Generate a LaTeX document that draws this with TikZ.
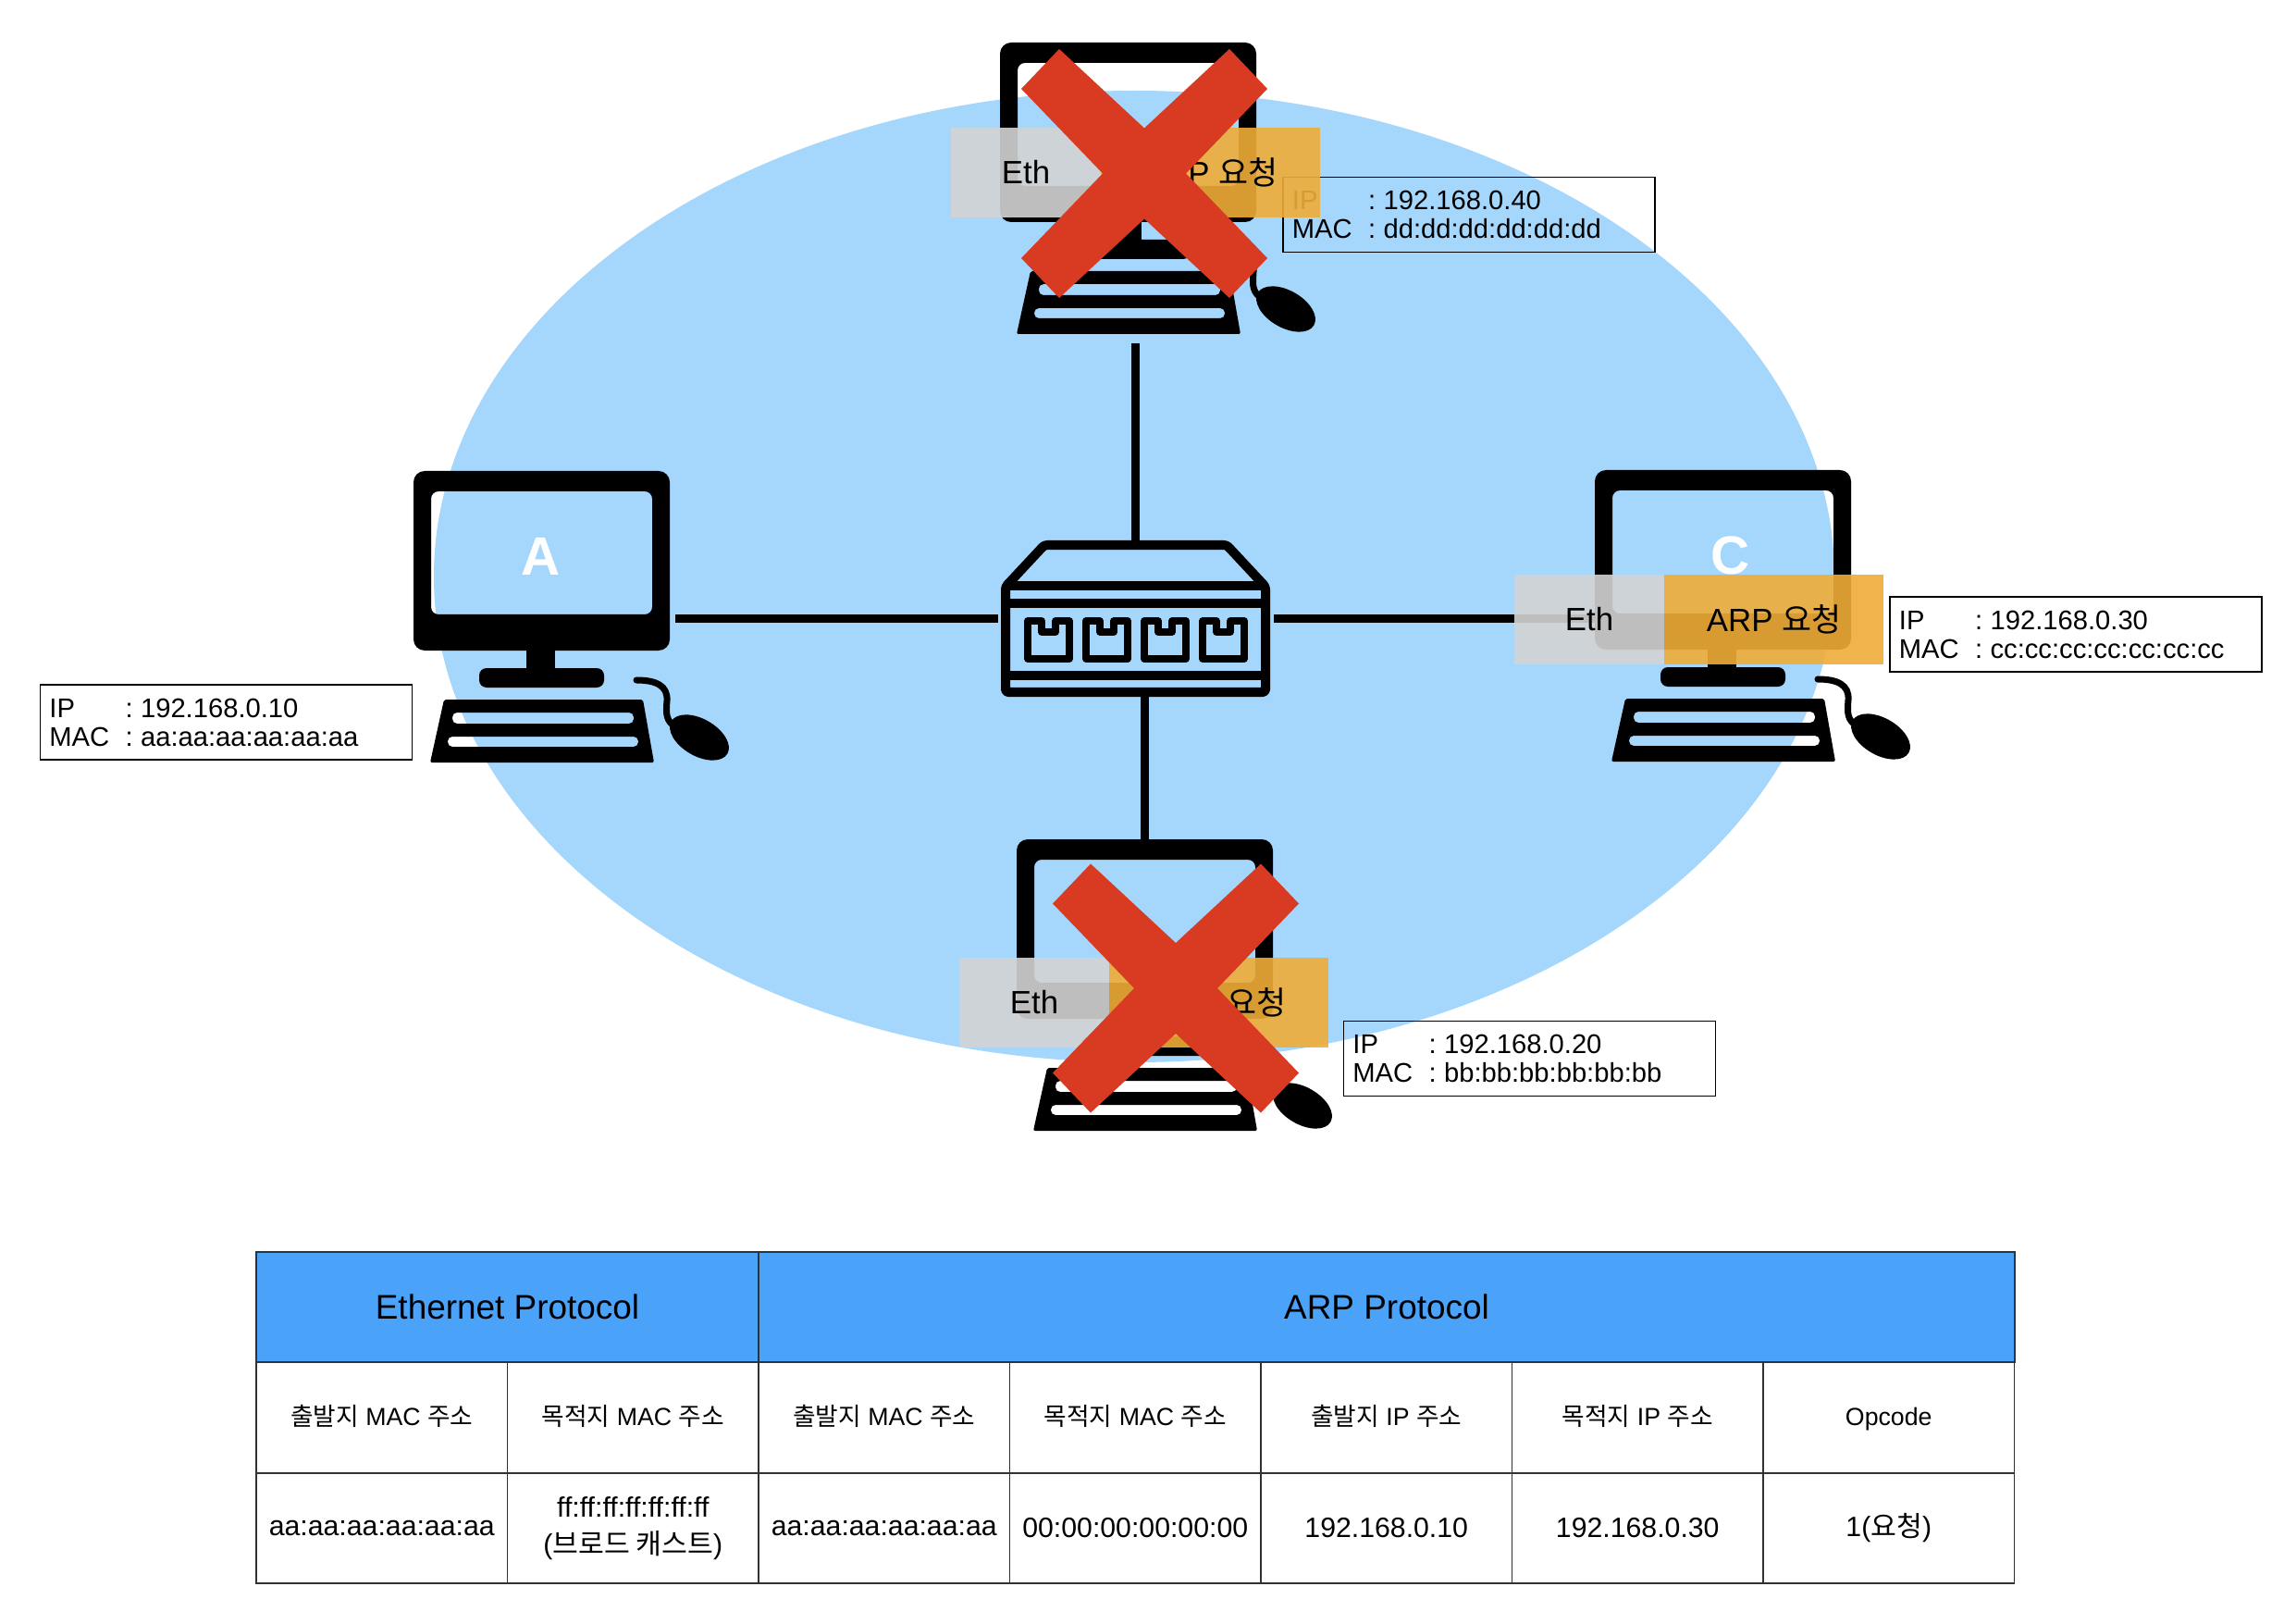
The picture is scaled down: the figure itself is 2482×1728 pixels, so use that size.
\documentclass[tikz,border=0pt]{standalone}
\usepackage{fontspec}
\setmainfont{Liberation Sans}
\newfontfamily\krfont{Noto Sans CJK KR}
\newcommand{\kr}[1]{{\krfont #1}}
\newcommand{\addrlines}[2]{\makebox[23.4pt][l]{IP}:\hspace{2.35pt}#1\\\makebox[23.4pt][l]{MAC}:\hspace{2.35pt}#2}
\usetikzlibrary{positioning}
\definecolor{lanblue}{RGB}{165, 214, 252}
\definecolor{headblue}{RGB}{74, 163, 249}
\definecolor{ethgray}{RGB}{211, 211, 211}
\definecolor{arporange}{RGB}{240, 172, 56}
\definecolor{crossred}{RGB}{216, 59, 34}
\definecolor{gridgray}{RGB}{50, 50, 50}
\tikzset{
  netlink/.style={line width=0.09cm},
  addrbox/.style={draw=black, line width=0.4pt, text width=3.82cm, inner xsep=0.1cm, inner ysep=0pt, minimum height=0.81cm, align=left, font=\fontsize{8.3}{8.8}\selectfont},
  ethbox/.style={fill=ethgray, fill opacity=.9, text opacity=1, minimum width=1.62cm, minimum height=0.97cm, inner sep=0pt, outer sep=0pt, font=\fontsize{9.9}{11}\selectfont},
  arpbox/.style={fill=arporange, fill opacity=.9, text opacity=1, minimum width=2.37cm, minimum height=0.97cm, inner sep=0pt, outer sep=0pt, font=\fontsize{9.9}{11}\selectfont},
  pclabel/.style={text=white, font=\fontsize{16.6}{18}\selectfont\bfseries, inner sep=0pt},
  headcell/.style={draw=gridgray, line width=0.5pt, fill=headblue, minimum height=1.193cm, inner sep=0pt, outer sep=0pt, font=\fontsize{10.5}{12}\selectfont},
  namecell/.style={draw=gridgray, line width=0.5pt, minimum width=2.715cm, minimum height=1.193cm, inner sep=0pt, outer sep=0pt, text height=6.5pt, text depth=1.5pt, font=\fontsize{7.6}{10}\selectfont},
  valuecell/.style={draw=gridgray, line width=0.5pt, minimum width=2.715cm, minimum height=1.193cm, inner sep=0pt, outer sep=0pt, align=center, font=\fontsize{8.6}{11.5}\selectfont},
  computer/.pic={
    \node[minimum width=2.77cm, minimum height=1.94cm, inner sep=0pt, outer sep=0pt] (-mon) at (138.5,97) {};
    \coordinate (-foot) at (138.5,315);
    \fill[even odd rule, rounded corners=0.12cm] (0,0) rectangle (277,194) [rounded corners=0.08cm] (19,22) rectangle (258,155);
    \fill (122,190) rectangle (153,216);
    \fill[rounded corners=0.08cm] (71,234) -- (71,213) -- (206,213) -- (206,234) -- cycle;
    \fill[even odd rule, rounded corners=0.02cm] (33,247) -- (248,247) -- (260,315) -- (18,315) -- cycle
      [rounded corners=0.05cm] (42,261) rectangle (238,273) (37,287) rectangle (243,298);
    \draw[line width=0.07cm, line cap=round] (241,226) .. controls (262,226) and (275,232) .. (274,248) .. controls (273,262) and (272,270) .. (285,278);
    \fill (309,288) ellipse [x radius=35, y radius=20, rotate=-30];
  },
  crossmark/.pic={
    \fill[crossred] (0,-49) -- (92,-134.5) -- (133,-91.5) -- (45,0) -- (133,91.5) -- (92,134.5) -- (0,49) -- (-92,134.5) -- (-133,91.5) -- (-45,0) -- (-133,-91.5) -- (-92,-134.5) -- cycle;
  }
}

\begin{document}
\begin{tikzpicture}[x=0.01cm, y=-0.01cm]
  \useasboundingbox (0,0) rectangle (2482,1728);
  \fill[lanblue] (1226,623) ellipse [x radius=757, y radius=525];

  \pic (pcA) at (447,509) {computer};
  \pic (pcB) at (1099,907) {computer};
  \pic (pcC) at (1724,508) {computer};
  \pic (pcD) at (1081,46) {computer};

  \node[minimum width=2.91cm, minimum height=1.69cm, inner sep=0pt, outer sep=0pt] (swt) at (1227.5,668.5) {};
  \draw[line width=0.1cm, line join=round, rounded corners=0.03cm] (1087,634) -- (1129,589) -- (1326,589) -- (1368,634) -- (1368,748) -- (1087,748) -- cycle;
  \draw[line width=0.09cm] (1087,633) -- (1368,633) (1087,652) -- (1368,652) (1087,730) -- (1368,730);
  \foreach \px in {0,63,126,189}
    \draw[line width=0.075cm, line join=round, xshift=\px*0.01cm] (1111,671) -- (1126,671) -- (1126,683) -- (1141,683) -- (1141,671) -- (1156,671) -- (1156,712) -- (1111,712) -- cycle;

  \draw[netlink, shorten <=0.03cm, shorten >=0.06cm] (swt.west) -- (swt.west -| pcA-mon.east);
  \draw[netlink, shorten <=0.04cm] (swt.east) -- (swt.east -| pcC-mon.west);
  \draw[netlink, shorten >=0.1cm] (swt.north) -- (swt.north |- pcD-foot);
  \draw[netlink] ([xshift=0.095cm]swt.south) -- ([xshift=0.095cm]swt.south |- pcB-mon.north);

  \node[pclabel] (nameA) at (585,601) {A};
  \node[pclabel] (nameC) at (1871,600) {C};

  \node[addrbox] (addrA) at (244.5,780.5) {\addrlines{192.168.0.10}{aa:aa:aa:aa:aa:aa}};
  \node[addrbox] (addrB) at (1653.5,1144) {\addrlines{192.168.0.20}{bb:bb:bb:bb:bb:bb}};
  \node[addrbox] (addrC) at (2244,685.5) {\addrlines{192.168.0.30}{cc:cc:cc:cc:cc:cc:cc}};
  \node[addrbox] (addrD) at (1588,232) {\addrlines{192.168.0.40}{dd:dd:dd:dd:dd:dd}};

  \node[ethbox] (ethB) at (1118,1083.5) {Eth};
  \node[arpbox, right=0pt of ethB] (arpB) {ARP \kr{요청}};
  \node[ethbox] (ethC) at (1718,669.5) {Eth};
  \node[arpbox, right=0pt of ethC] (arpC) {ARP \kr{요청}};
  \node[ethbox] (ethD) at (1109,186.5) {Eth};
  \node[arpbox, right=0pt of ethD] (arpD) {ARP \kr{요청}};

  \pic (crossB) at (1271,1068) {crossmark};
  \pic (crossD) at (1237,187.5) {crossmark};

  \node[headcell, minimum width=5.43cm] (ethhead) at (548.5,1412.5) {Ethernet Protocol};
  \node[headcell, minimum width=13.575cm] (arphead) at (1499,1412.5) {ARP Protocol};
  \foreach \col/\nametxt/\valtxt in {
    0/{\kr{출발지} MAC \kr{주소}}/{aa:aa:aa:aa:aa:aa},
    1/{\kr{목적지} MAC \kr{주소}}/{ff:ff:ff:ff:ff:ff:ff\\(\kr{브로드 캐스트})},
    2/{\kr{출발지} MAC \kr{주소}}/{aa:aa:aa:aa:aa:aa},
    3/{\kr{목적지} MAC \kr{주소}}/{00:00:00:00:00:00},
    4/{\kr{출발지} IP \kr{주소}}/{192.168.0.10},
    5/{\kr{목적지} IP \kr{주소}}/{192.168.0.30},
    6/{Opcode}/{1(\kr{요청})}} {
    \node[namecell] (name\col) at ({412.75+271.5*\col},1532) {\nametxt};
    \node[valuecell] (val\col) at ({412.75+271.5*\col},1651.5) {\valtxt};
  }
\end{tikzpicture}
\end{document}
